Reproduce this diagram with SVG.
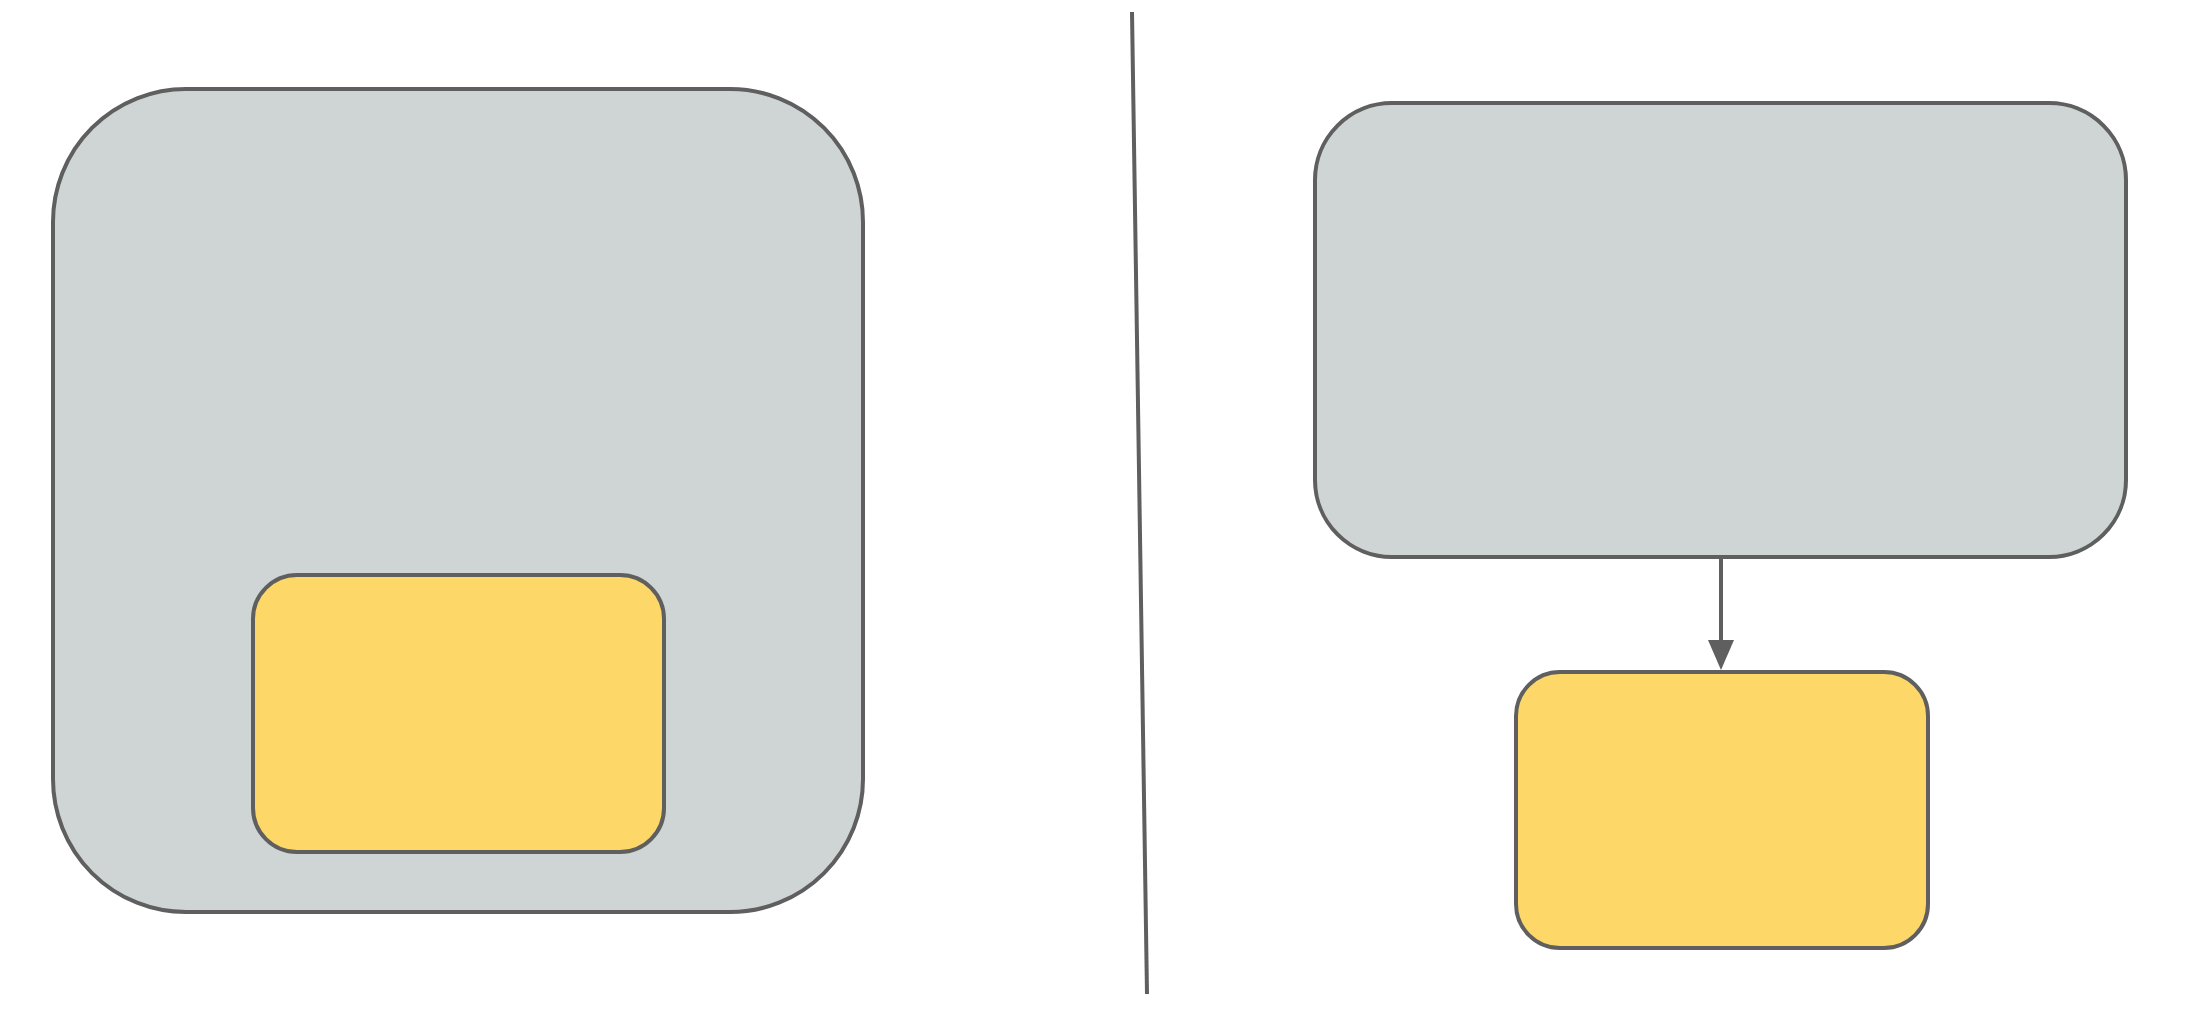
<svg xmlns="http://www.w3.org/2000/svg" width="2192" height="1020" viewBox="0 0 2192 1020">
  <style>
    .gray { fill: #cfd5d5; stroke: #5f5f5f; stroke-width: 4; }
    .yellow { fill: #fdd868; stroke: #5f5f5f; stroke-width: 4; }
    .conn { stroke: #5f5f5f; stroke-width: 4; fill: none; }
  </style>
  <defs>
    <marker id="arrow" viewBox="0 0 30 26" refX="1" refY="13" markerWidth="30" markerHeight="26" markerUnits="userSpaceOnUse" orient="auto">
      <path d="M0,0 L30,13 L0,26 Z" fill="#5f5f5f"/>
    </marker>
  </defs>
  <rect width="2192" height="1020" fill="#ffffff"/>
  <g id="left-container">
    <rect class="gray" x="53" y="89" width="810" height="823" rx="133" ry="133"/>
  </g>
  <g id="left-inner">
    <rect class="yellow" x="253" y="575" width="411" height="277" rx="44" ry="44"/>
  </g>
  <g id="divider">
    <line x1="1132" y1="12" x2="1147" y2="994" stroke="#5f5f5f" stroke-width="4"/>
  </g>
  <g id="right-parent">
    <rect class="gray" x="1315" y="103" width="811" height="454" rx="77" ry="77"/>
  </g>
  <g id="right-child">
    <rect class="yellow" x="1516" y="672" width="412" height="276" rx="44" ry="44"/>
  </g>
  <g id="connectors">
    <path class="conn" d="M1721,557 L1721,641" marker-end="url(#arrow)"/>
  </g>
</svg>
